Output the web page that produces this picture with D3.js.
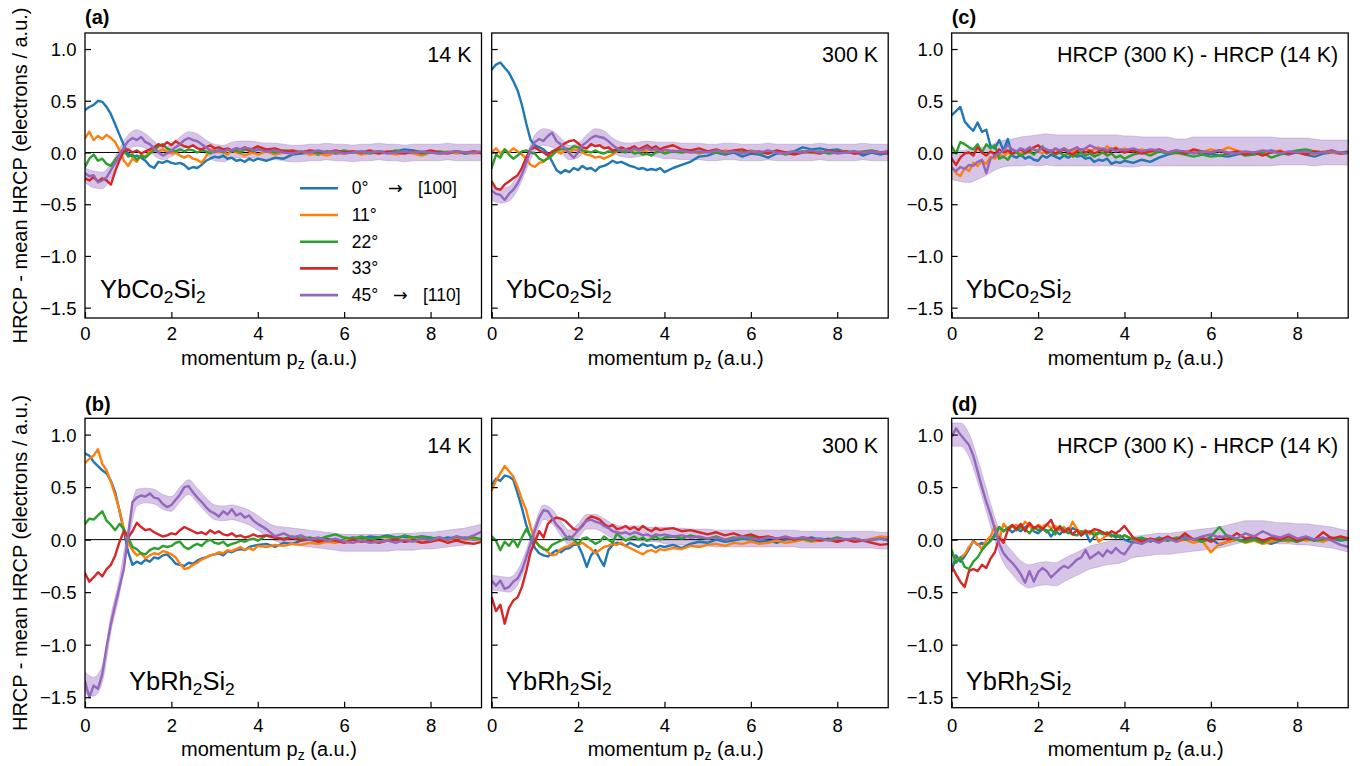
<!DOCTYPE html>
<html>
<head>
<meta charset="utf-8">
<title>HRCP anisotropy of YbCo2Si2 and YbRh2Si2</title>
<script src="https://cdn.jsdelivr.net/npm/d3@7/dist/d3.min.js"></script>
<style>
  html, body { margin: 0; padding: 0; background: #fff; }
  svg { display: block; }
  text { font-family: "Liberation Sans", Arial, Helvetica, sans-serif; fill: #000; }
  tspan.arrow { font-family: "DejaVu Sans", sans-serif; }
</style>
</head>
<body>
<svg id="fig" width="1365" height="766"></svg>
<script>
// ---------------------------------------------------------------------------
// Momentum grid of the directional profiles (a.u.)
const pz = [0.0,0.1,0.2,0.3,0.4,0.5,0.6,0.7,0.8,0.9,1.0,1.1,1.2,1.3,1.4,1.5,1.6,1.7,1.8,1.9,
  2.0,2.1,2.2,2.3,2.4,2.5,2.6,2.7,2.8,2.9,3.0,3.1,3.2,3.3,3.4,3.5,3.6,3.7,3.8,3.9,4.0,
  4.2,4.4,4.6,4.8,5.0,5.2,5.4,5.6,5.8,6.0,6.2,6.4,6.6,6.8,7.0,7.2,7.4,7.6,7.8,8.0,8.2,8.4,8.6,8.8,9.0,9.2];
// Momentum grid of the 45° uncertainty band (a.u.)
const pzBand = [0.0,0.2,0.4,0.6,0.8,1.0,1.2,1.4,1.6,1.8,2.0,2.2,2.4,2.6,2.8,3.0,3.2,3.4,3.6,3.8,
  4.0,4.2,4.4,4.6,4.8,5.0,5.2,5.4,5.6,5.8,6.0,6.2,6.4,6.6,6.8,7.0,7.2,7.4,7.6,7.8,8.0,8.2,8.4,8.6,8.8,9.0,9.2];

const angleLabels = ["0°", "11°", "22°", "33°", "45°"];
const angleColors = ["#1f77b4", "#ff7f0e", "#2ca02c", "#d62728", "#9467bd"];
const xTicks = [0, 2, 4, 6, 8];
const yTicks = [1.0, 0.5, 0.0, -0.5, -1.0, -1.5];

// ---- YbCo2Si2, 14 K -------------------------------------------------------
const co14_0 = [0.41,0.44,0.46,0.50,0.49,0.44,0.37,0.27,0.17,0.07,
  -0.01,-0.04,-0.03,-0.05,-0.08,-0.13,-0.15,-0.09,-0.10,-0.08,
  -0.10,-0.11,-0.10,-0.12,-0.16,-0.14,-0.15,-0.12,-0.08,-0.06,
  -0.04,-0.05,-0.03,-0.06,-0.05,-0.08,-0.07,-0.09,-0.06,-0.08,-0.06,
  -0.08,-0.05,-0.06,-0.02,-0.01, 0.00,-0.02,0.01,-0.01,0.00, 0.01,-0.01,0.00,0.01,0.00,
  0.01,0.03,0.02,0.00,0.01, -0.01,0.00,0.01,-0.01,0.00, 0.00];
const co14_11 = [0.14,0.20,0.12,0.16,0.13,0.17,0.14,0.10,0.02,-0.08,
  -0.13,-0.06,-0.09,-0.02,-0.04,0.01,0.03,0.01,0.03,0.01,
  -0.01,0.00,-0.03,-0.05,-0.03,-0.06,-0.07,-0.10,-0.04,0.03,
  0.02,0.00,0.01,-0.02,0.02,0.00,-0.01,-0.03,-0.01,0.00,-0.02,
  0.01,-0.02,0.00,-0.01,0.01, -0.02,-0.01,-0.03,0.00,-0.01, 0.01,-0.02,0.00,-0.01,0.00,
  -0.02,0.00,-0.01,-0.03,0.00, -0.01,0.01,-0.01,0.00,-0.01, 0.00];
const co14_22 = [-0.14,-0.06,-0.02,-0.08,-0.06,-0.11,-0.13,-0.07,-0.02,0.02,
  -0.04,-0.02,-0.07,-0.03,-0.05,-0.01,0.02,0.06,0.08,0.04,
  0.02,0.01,0.03,0.01,0.03,0.02,0.00,0.02,0.01,-0.01,
  0.01,0.02,0.00,0.03,0.01,0.02,0.00,0.03,0.02,0.01,0.03,
  0.02,0.00,0.02,0.01,0.00, 0.01,-0.01,0.01,0.00,0.02, 0.00,0.01,-0.01,0.01,0.00,
  0.02,0.00,0.01,-0.01,0.00, 0.01,0.00,0.01,-0.01,0.01, 0.00];
const co14_33 = [-0.25,-0.27,-0.24,-0.28,-0.25,-0.27,-0.31,-0.18,-0.07,0.01,
  0.03,0.00,0.02,-0.01,0.01,0.03,0.05,0.08,0.06,0.10,
  0.07,0.11,0.08,0.06,0.05,0.07,0.04,0.03,0.05,0.07,
  0.04,0.05,0.03,0.04,0.02,0.04,0.03,0.05,0.02,0.04,0.06,
  0.03,0.04,0.01,0.02,0.00, 0.02,0.01,0.00,0.02,0.00, 0.01,0.00,0.02,-0.01,0.01,
  0.00,-0.01,0.01,0.00,0.02, 0.00,-0.01,0.01,0.00,0.01, -0.01];
const co14_45 = [-0.20,-0.23,-0.22,-0.29,-0.27,-0.24,-0.17,-0.10,-0.02,0.05,
  0.11,0.14,0.12,0.15,0.10,0.08,0.04,0.00,-0.03,-0.01,
  0.02,0.05,0.08,0.12,0.14,0.12,0.11,0.08,0.05,0.02,
  0.00,0.02,0.01,0.03,0.02,0.04,0.03,0.05,0.04,0.02,0.03,
  0.01,0.02,0.00,-0.01,0.01, 0.00,0.02,0.00,0.01,-0.01, 0.00,0.01,0.00,0.01,-0.01,
  0.00,0.01,0.00,0.01,0.00, -0.01,0.00,0.01,0.00,0.00, 0.01];
const co14_bandMid = [-0.22,-0.26,-0.27,-0.18,-0.03,0.10,0.14,0.11,0.04,-0.01,
  0.02,0.08,0.13,0.11,0.05,0.00,-0.01,0.02,0.03,0.03,
  0.02,0.01,0.01,0.00,-0.01,-0.01,0.00,0.00,0.01,0.00,
  0.00,-0.01,0.00,0.00,0.01,0.00,0.00,-0.01,0.00,0.00,
  0.00,0.00,0.01,0.00,0.00,0.00,0.00];
const co14_bandErr = [0.07,0.08,0.08,0.07,0.07,0.07,0.08,0.07,0.07,0.06,
  0.06,0.07,0.07,0.07,0.07,0.08,0.08,0.08,0.08,0.08,
  0.08,0.08,0.08,0.08,0.08,0.08,0.08,0.08,0.08,0.08,
  0.08,0.08,0.08,0.08,0.08,0.08,0.08,0.08,0.08,0.08,
  0.08,0.08,0.08,0.08,0.08,0.08,0.08];

// ---- YbCo2Si2, 300 K ------------------------------------------------------
const co300_0 = [0.80,0.85,0.87,0.82,0.77,0.69,0.60,0.46,0.28,0.12,
  0.07,0.05,0.03,-0.01,-0.09,-0.17,-0.20,-0.17,-0.19,-0.15,
  -0.17,-0.13,-0.16,-0.15,-0.18,-0.14,-0.13,-0.11,-0.08,-0.10,
  -0.09,-0.11,-0.13,-0.14,-0.16,-0.15,-0.17,-0.16,-0.17,-0.15,-0.19,
  -0.15,-0.12,-0.09,-0.04,-0.03, 0.00,-0.02,0.00,-0.04,-0.01, -0.02,-0.05,-0.01,0.00,0.01,
  0.05,0.03,0.04,0.02,0.03, 0.00,0.01,-0.03,0.00,-0.02, 0.00];
const co300_11 = [0.00,0.04,-0.01,0.03,0.00,0.04,0.01,-0.02,-0.06,-0.12,
  -0.14,-0.10,-0.09,-0.05,-0.02,0.01,-0.01,0.02,0.00,0.03,
  0.02,0.00,-0.02,-0.03,-0.05,-0.04,-0.06,-0.04,-0.02,0.01,
  0.03,0.02,0.04,0.02,0.03,0.01,0.02,0.04,0.01,0.02,0.00,
  0.02,0.00,0.01,-0.01,0.01, 0.00,0.02,0.01,0.00,0.02, 0.00,-0.01,0.01,0.00,-0.01,
  0.01,0.00,-0.01,0.01,0.00, 0.01,-0.01,0.00,0.01,0.00, 0.01];
const co300_22 = [-0.15,-0.02,-0.05,0.03,-0.02,-0.06,-0.03,0.01,0.02,0.00,
  -0.01,-0.06,-0.08,-0.06,-0.03,0.02,0.03,0.04,0.03,0.06,
  0.05,0.02,0.01,0.00,0.02,0.00,-0.01,0.01,0.00,0.02,
  0.01,0.00,0.02,-0.01,0.00,-0.02,-0.01,-0.03,0.00,0.01,-0.01,
  0.01,0.00,0.02,0.00,0.01, 0.00,-0.01,0.01,0.00,0.01, -0.01,0.00,0.01,-0.02,0.00,
  0.01,0.00,0.01,-0.01,0.00, 0.01,0.00,0.01,0.02,0.00, 0.01];
const co300_33 = [-0.28,-0.35,-0.36,-0.31,-0.28,-0.25,-0.22,-0.15,-0.05,0.03,
  0.05,0.02,0.00,-0.03,0.01,0.03,0.06,0.09,0.11,0.12,
  0.09,0.05,0.04,0.08,0.06,0.07,0.04,0.05,0.02,0.03,
  0.05,0.03,0.04,0.06,0.03,0.05,0.07,0.04,0.06,0.03,0.05,
  0.07,0.03,0.02,0.04,0.01, 0.03,0.00,0.02,0.03,0.00, 0.01,-0.01,0.02,0.00,-0.02,
  0.00,0.01,-0.01,0.02,0.00, 0.01,-0.01,0.00,0.01,0.00, -0.01];
const co300_45 = [-0.37,-0.40,-0.41,-0.46,-0.40,-0.36,-0.30,-0.21,-0.10,0.03,
  0.10,0.13,0.11,0.16,0.19,0.11,0.08,0.04,-0.01,-0.05,
  0.00,0.07,0.10,0.14,0.16,0.15,0.14,0.11,0.07,0.04,
  0.02,0.03,0.01,0.04,0.02,0.03,0.05,0.02,0.04,0.01,0.03,
  0.01,0.02,0.00,0.01,0.00, 0.02,0.00,0.01,-0.01,0.01, 0.00,0.02,0.00,-0.01,0.01,
  0.00,0.02,0.00,0.01,-0.01, 0.00,0.01,0.00,0.01,0.00, 0.01];
const co300_bandMid = [-0.39,-0.42,-0.40,-0.29,-0.10,0.09,0.15,0.13,0.07,0.00,
  0.02,0.10,0.15,0.13,0.07,0.03,0.02,0.03,0.04,0.03,
  0.02,0.02,0.01,0.01,0.01,0.00,0.00,0.01,0.01,0.00,
  0.00,0.00,0.01,0.00,0.00,0.00,0.00,0.00,0.01,0.00,
  0.00,0.00,0.00,0.01,0.00,0.00,0.00];
const co300_bandErr = [0.07,0.07,0.07,0.07,0.07,0.08,0.08,0.08,0.07,0.07,
  0.07,0.07,0.08,0.08,0.07,0.07,0.07,0.07,0.07,0.07,
  0.08,0.08,0.08,0.08,0.08,0.08,0.08,0.08,0.08,0.08,
  0.08,0.08,0.08,0.08,0.08,0.08,0.08,0.08,0.08,0.08,
  0.08,0.08,0.08,0.08,0.08,0.08,0.08];

// ---- YbCo2Si2, 300 K minus 14 K -------------------------------------------
const coDiff_0 = [0.36,0.40,0.44,0.30,0.25,0.21,0.29,0.20,0.22,0.06,
  0.04,0.12,0.02,0.13,-0.03,-0.05,-0.02,-0.06,-0.04,-0.07,
  -0.08,-0.03,-0.05,-0.02,-0.04,-0.06,-0.03,-0.05,-0.02,-0.04,
  -0.03,-0.06,-0.05,-0.09,-0.07,-0.08,-0.06,-0.11,-0.09,-0.10,-0.08,
  -0.10,-0.07,-0.09,-0.05,-0.02, 0.00,-0.01,0.01,-0.02,-0.01, -0.03,-0.04,-0.02,0.00,-0.01,
  0.00,0.02,0.00,-0.02,0.01, -0.02,-0.04,-0.01,0.00,-0.01, 0.00];
const coDiff_11 = [-0.14,-0.20,-0.23,-0.15,-0.18,-0.10,-0.13,-0.08,-0.11,-0.04,
  -0.06,-0.02,-0.04,0.00,-0.02,0.01,-0.01,0.02,0.00,0.03,
  0.01,-0.01,0.02,0.00,0.03,0.01,0.04,0.02,0.00,0.03,
  0.02,0.04,0.01,0.03,0.05,0.02,0.06,0.03,0.05,0.02,0.04,
  0.01,0.03,0.00,0.02,0.00, -0.01,0.01,0.02,0.00,0.03, 0.01,0.05,0.02,0.00,-0.01,
  0.01,0.00,0.02,-0.01,0.01, 0.00,-0.02,0.01,0.00,-0.01, 0.00];
const coDiff_22 = [0.06,-0.01,0.10,0.08,0.05,0.03,0.08,0.00,0.08,0.04,
  0.07,-0.06,-0.04,-0.07,-0.01,0.00,-0.03,-0.01,0.01,-0.02,
  0.02,0.06,-0.01,0.01,-0.02,0.00,-0.03,-0.01,-0.04,-0.02,
  0.00,-0.03,-0.01,-0.04,-0.02,0.00,-0.03,-0.01,-0.05,-0.03,-0.06,
  -0.02,0.00,-0.03,0.01,-0.01, 0.00,-0.02,-0.04,-0.02,-0.04, -0.03,-0.01,0.00,-0.03,-0.02,
  0.00,-0.05,-0.02,0.00,0.02, 0.03,0.01,0.00,0.01,0.00, 0.01];
const coDiff_33 = [-0.06,-0.12,-0.05,-0.01,0.00,-0.03,0.05,0.00,-0.03,0.01,
  -0.02,0.03,0.00,0.02,-0.01,0.01,0.03,0.00,0.02,0.05,
  0.07,0.03,0.00,0.02,-0.01,0.01,0.03,0.00,-0.02,0.01,
  0.03,0.00,0.02,-0.01,0.01,0.03,0.00,0.02,0.04,0.01,0.00,
  0.02,-0.01,0.01,0.03,0.00, 0.02,-0.01,0.03,0.01,0.00, 0.02,-0.01,0.01,-0.02,0.00,
  -0.03,0.00,0.01,-0.01,0.00, -0.02,0.01,0.00,0.02,-0.01, 0.00];
const coDiff_45 = [-0.15,-0.18,-0.14,-0.16,-0.12,-0.13,-0.09,-0.07,-0.20,-0.06,
  -0.03,-0.01,0.02,0.07,0.03,0.01,0.04,0.02,0.05,0.03,
  0.01,0.05,0.03,0.01,0.04,0.02,0.04,0.01,0.03,0.05,
  0.02,0.04,0.07,0.05,0.03,0.04,0.02,0.04,0.01,0.03,0.02,
  0.04,0.01,0.03,0.02,0.00, 0.02,0.01,-0.01,0.01,0.00, 0.02,0.00,-0.01,0.01,0.00,
  0.02,0.01,-0.01,0.01,0.00, 0.01,-0.01,0.00,0.01,0.00, -0.01];
const coDiff_bandMid = [-0.12,-0.13,-0.13,-0.11,-0.08,-0.04,-0.01,0.00,0.01,0.02,
  0.02,0.03,0.02,0.02,0.02,0.02,0.02,0.02,0.02,0.02,
  0.01,0.01,0.01,0.01,0.01,0.01,0.00,0.00,0.01,0.01,
  0.01,0.01,0.01,0.01,0.01,0.01,0.01,0.01,0.01,0.01,
  0.01,0.01,0.00,0.00,0.00,0.00,0.00];
const coDiff_bandErr = [0.14,0.15,0.16,0.15,0.14,0.13,0.13,0.13,0.14,0.14,
  0.15,0.15,0.15,0.15,0.15,0.15,0.15,0.15,0.15,0.15,
  0.15,0.15,0.14,0.14,0.14,0.14,0.13,0.13,0.14,0.14,
  0.14,0.14,0.14,0.14,0.14,0.14,0.14,0.14,0.13,0.13,
  0.13,0.13,0.13,0.12,0.12,0.12,0.12];

// ---- YbRh2Si2, 14 K -------------------------------------------------------
const rh14_0 = [0.82,0.80,0.74,0.70,0.66,0.63,0.56,0.45,0.27,0.08,
  -0.12,-0.24,-0.21,-0.23,-0.19,-0.21,-0.17,-0.18,-0.15,-0.14,
  -0.18,-0.23,-0.24,-0.25,-0.22,-0.23,-0.20,-0.18,-0.17,-0.15,
  -0.14,-0.13,-0.15,-0.11,-0.12,-0.10,-0.09,-0.10,-0.07,-0.06,-0.05,
  -0.04,-0.07,-0.03,-0.04,-0.01, 0.00,-0.02,0.01,-0.01,0.00, 0.02,0.01,0.03,0.02,0.04,
  0.02,0.03,0.01,0.03,0.02, 0.00,0.02,0.01,0.02,0.00, 0.01];
const rh14_11 = [0.73,0.77,0.80,0.86,0.72,0.66,0.55,0.42,0.28,0.10,
  -0.03,-0.10,-0.15,-0.13,-0.18,-0.15,-0.13,-0.14,-0.11,-0.12,
  -0.14,-0.17,-0.23,-0.28,-0.27,-0.24,-0.22,-0.19,-0.17,-0.15,
  -0.14,-0.12,-0.13,-0.10,-0.11,-0.09,-0.07,-0.10,-0.08,-0.10,-0.06,
  -0.07,-0.05,-0.06,-0.04,-0.05, -0.03,-0.04,-0.02,-0.03,-0.01, 0.01,-0.01,0.00,-0.02,0.00,
  0.01,-0.01,0.02,0.00,0.01, -0.01,0.00,0.02,0.00,0.01, 0.00];
const rh14_22 = [0.15,0.20,0.19,0.23,0.27,0.18,0.14,0.09,0.15,0.10,
  0.02,-0.07,-0.09,-0.13,-0.14,-0.10,-0.08,-0.09,-0.06,-0.07,
  -0.06,-0.03,-0.02,-0.07,-0.09,-0.06,-0.04,-0.06,-0.02,0.00,
  -0.03,-0.04,-0.02,-0.06,-0.04,-0.03,-0.01,-0.02,0.00,0.01,-0.01,
  0.04,0.02,0.01,0.03,0.01, 0.02,0.00,0.03,0.05,0.02, 0.01,0.03,0.00,0.02,0.03,
  0.01,0.04,0.02,0.03,0.01, 0.02,0.00,0.03,0.01,0.02, 0.00];
const rh14_33 = [-0.32,-0.40,-0.36,-0.31,-0.35,-0.28,-0.24,-0.15,-0.02,0.08,
  0.02,0.08,0.16,0.12,0.09,0.10,0.07,0.05,0.03,0.04,
  0.06,0.05,0.09,0.12,0.10,0.08,0.06,0.07,0.05,0.09,
  0.06,0.08,0.05,0.04,0.06,0.03,0.04,0.02,0.03,0.05,0.03,
  0.04,0.02,0.00,0.02,-0.01, 0.01,-0.02,0.00,-0.01,-0.03, 0.00,-0.02,-0.01,-0.03,-0.01,
  0.00,-0.02,-0.01,-0.03,-0.02, 0.00,-0.03,-0.01,-0.03,-0.04, -0.02];
const rh14_45 = [-1.35,-1.50,-1.39,-1.42,-1.28,-1.02,-0.80,-0.62,-0.45,-0.28,
  0.05,0.36,0.40,0.42,0.41,0.44,0.40,0.39,0.34,0.31,
  0.33,0.38,0.43,0.50,0.51,0.45,0.40,0.36,0.31,0.27,
  0.25,0.22,0.27,0.24,0.29,0.23,0.25,0.21,0.23,0.18,0.15,
  0.10,0.03,0.06,0.02,0.04, 0.00,0.02,-0.01,0.01,-0.02, -0.03,-0.01,-0.03,-0.02,-0.01,
  -0.03,0.00,-0.02,0.01,-0.01, 0.02,0.00,0.03,0.01,0.04, 0.08];
const rh14_bandMid = [-1.36,-1.40,-1.28,-0.80,-0.44,0.04,0.40,0.42,0.41,0.36,
  0.34,0.43,0.50,0.42,0.33,0.26,0.25,0.26,0.24,0.21,
  0.16,0.10,0.06,0.04,0.03,0.02,0.01,0.00,-0.01,-0.02,
  -0.03,-0.03,-0.03,-0.03,-0.03,-0.03,-0.02,-0.02,-0.02,-0.01,
  -0.01,0.00,0.01,0.02,0.03,0.05,0.07];
const rh14_bandErr = [0.10,0.09,0.08,0.08,0.08,0.08,0.08,0.07,0.07,0.07,
  0.07,0.07,0.07,0.07,0.07,0.07,0.07,0.07,0.07,0.07,
  0.07,0.07,0.07,0.08,0.08,0.08,0.08,0.08,0.08,0.08,
  0.08,0.08,0.08,0.08,0.08,0.08,0.08,0.08,0.08,0.08,
  0.08,0.08,0.08,0.08,0.08,0.08,0.08];

// ---- YbRh2Si2, 300 K ------------------------------------------------------
const rh300_0 = [0.52,0.58,0.56,0.61,0.60,0.57,0.44,0.30,0.14,0.02,
  -0.08,-0.13,-0.15,-0.16,-0.13,-0.10,-0.12,-0.09,-0.08,-0.05,
  -0.05,-0.14,-0.26,-0.15,-0.10,-0.18,-0.25,-0.10,-0.05,-0.03,
  -0.04,-0.06,-0.03,-0.05,-0.07,-0.04,-0.06,-0.05,-0.08,-0.06,-0.07,
  -0.05,-0.08,-0.04,-0.02,-0.03, 0.00,-0.02,-0.01,0.01,0.00, -0.02,-0.01,-0.03,0.00,0.01,
  0.00,0.02,0.00,0.01,-0.01, 0.00,0.01,-0.01,0.00,0.01, -0.01];
const rh300_11 = [0.47,0.56,0.63,0.70,0.65,0.60,0.50,0.38,0.28,0.12,
  0.00,-0.06,-0.08,-0.12,-0.15,-0.14,-0.09,-0.07,-0.06,-0.03,
  -0.05,-0.03,-0.06,-0.09,-0.13,-0.10,-0.07,-0.06,-0.04,-0.05,
  -0.03,-0.06,-0.08,-0.10,-0.12,-0.14,-0.11,-0.10,-0.12,-0.09,-0.10,
  -0.08,-0.09,-0.06,-0.07,-0.05, -0.04,-0.06,-0.03,-0.04,-0.02, -0.04,-0.03,-0.01,-0.03,-0.02,
  0.00,-0.02,-0.01,0.00,-0.02, 0.00,0.01,-0.01,0.01,0.03, 0.02];
const rh300_22 = [0.03,-0.01,-0.10,-0.02,-0.06,0.00,-0.07,0.02,0.10,0.03,
  -0.01,-0.06,-0.09,-0.10,-0.05,-0.03,-0.01,0.01,0.03,0.00,
  -0.04,0.01,0.02,-0.01,-0.04,-0.02,0.03,0.00,-0.03,0.06,
  0.02,-0.01,0.01,0.03,0.00,0.02,-0.01,0.01,0.03,0.00,0.02,
  0.03,0.01,0.04,0.02,0.01, 0.03,0.00,0.02,0.01,0.03, 0.00,0.02,0.01,0.02,0.00,
  0.01,-0.01,0.01,0.00,0.02, 0.00,0.01,-0.01,0.00,0.01, 0.00];
const rh300_33 = [-0.55,-0.68,-0.62,-0.80,-0.65,-0.58,-0.55,-0.45,-0.30,-0.12,
  -0.02,0.08,0.02,0.15,0.19,0.21,0.20,0.18,0.14,0.10,
  0.09,0.13,0.19,0.22,0.21,0.19,0.15,0.12,0.14,0.10,
  0.11,0.13,0.10,0.12,0.09,0.13,0.10,0.08,0.11,0.09,0.10,
  0.11,0.08,0.09,0.07,0.05, 0.07,0.04,0.06,0.03,0.05, 0.02,0.03,0.01,0.02,0.00,
  0.02,0.01,-0.01,0.00,-0.02, 0.00,-0.02,-0.01,-0.03,-0.05, -0.04];
const rh300_45 = [-0.39,-0.44,-0.39,-0.47,-0.45,-0.40,-0.37,-0.29,-0.17,-0.04,
  0.09,0.21,0.28,0.27,0.21,0.14,0.10,0.04,0.00,0.04,
  0.09,0.14,0.18,0.19,0.17,0.16,0.13,0.11,0.08,0.07,
  0.06,0.07,0.05,0.07,0.06,0.04,0.05,0.03,0.05,0.04,0.05,
  0.03,0.04,0.02,0.03,0.01, 0.02,0.00,0.01,0.03,0.01, 0.00,0.02,0.01,0.03,0.01,
  0.02,0.00,0.01,-0.01,0.01, 0.00,0.01,-0.01,0.00,0.01, 0.00];
const rh300_bandMid = [-0.41,-0.42,-0.43,-0.36,-0.17,0.08,0.26,0.22,0.11,0.02,
  0.08,0.17,0.17,0.13,0.08,0.06,0.06,0.06,0.05,0.05,
  0.04,0.03,0.03,0.02,0.02,0.02,0.01,0.01,0.01,0.01,
  0.01,0.01,0.01,0.01,0.01,0.01,0.00,0.00,0.00,0.00,
  0.00,0.00,0.00,0.00,0.00,-0.01,-0.01];
const rh300_bandErr = [0.07,0.07,0.07,0.07,0.07,0.07,0.07,0.07,0.07,0.07,
  0.07,0.07,0.07,0.07,0.07,0.07,0.07,0.07,0.07,0.07,
  0.08,0.08,0.08,0.08,0.08,0.08,0.08,0.08,0.08,0.08,
  0.08,0.08,0.08,0.08,0.08,0.08,0.08,0.08,0.08,0.08,
  0.08,0.08,0.08,0.08,0.08,0.08,0.08];

// ---- YbRh2Si2, 300 K minus 14 K -------------------------------------------
const rhDiff_0 = [-0.30,-0.15,-0.21,-0.16,-0.09,-0.01,-0.05,-0.03,-0.05,-0.01,
  0.05,0.12,0.08,0.11,0.07,0.10,0.08,0.12,0.14,0.08,
  0.06,0.10,0.09,0.03,0.08,0.05,0.09,0.06,0.11,0.09,
  0.04,0.07,-0.02,0.03,0.06,0.07,0.04,0.05,0.02,0.04,0.00,
  -0.03,0.01,-0.02,0.02,-0.01, 0.01,0.03,0.00,-0.02,0.01, -0.05,-0.02,0.00,-0.01,0.01,
  -0.02,-0.04,-0.01,0.00,-0.02, 0.01,-0.01,0.00,0.01,-0.01, 0.00];
const rhDiff_11 = [-0.12,-0.20,-0.17,-0.14,-0.07,-0.02,-0.04,-0.09,-0.01,0.03,
  0.13,0.00,0.15,0.10,0.12,0.14,0.11,0.17,0.13,0.10,
  0.14,0.12,0.15,0.11,0.13,0.09,0.12,0.08,0.17,0.10,
  0.07,0.09,0.05,0.08,-0.02,0.01,0.05,0.03,0.06,0.02,0.04,
  0.00,-0.02,0.01,-0.01,0.02, -0.02,0.00,-0.03,-0.01,-0.12, -0.04,-0.02,0.00,-0.03,-0.01,
  -0.04,-0.02,0.00,-0.02,0.01, -0.01,0.00,-0.02,0.01,0.02, 0.00];
const rhDiff_22 = [-0.10,-0.22,-0.17,-0.26,-0.28,-0.21,-0.17,-0.10,-0.05,-0.01,
  0.03,0.12,0.08,0.11,0.14,0.09,0.12,0.10,0.06,0.12,
  0.09,0.11,0.07,0.10,0.05,0.13,0.09,0.07,0.05,0.04,
  0.08,0.06,0.08,0.04,0.07,0.05,0.07,0.03,0.05,0.02,0.04,
  0.00,0.02,-0.01,0.01,-0.01, 0.02,0.00,0.01,-0.02,0.03, 0.12,0.02,0.00,-0.02,0.00,
  -0.03,0.01,-0.01,0.00,-0.02, 0.01,-0.01,0.00,0.02,0.00, 0.01];
const rhDiff_33 = [-0.25,-0.33,-0.40,-0.45,-0.30,-0.28,-0.30,-0.24,-0.27,-0.18,
  -0.12,0.02,-0.03,0.09,0.14,0.10,0.15,0.08,0.16,0.11,
  0.13,0.10,0.14,0.19,0.09,0.12,0.07,0.11,0.05,0.09,
  0.04,0.08,0.07,0.10,0.09,0.07,0.05,0.08,0.06,0.09,0.13,
  0.02,-0.02,0.01,-0.01,0.03, -0.01,0.06,0.00,0.02,-0.02, 0.03,0.00,0.06,0.01,0.03,
  -0.01,0.02,0.00,0.03,-0.01, 0.02,0.00,0.07,0.01,0.03, 0.01];
const rhDiff_45 = [0.98,1.06,1.00,0.95,0.90,0.80,0.65,0.50,0.36,0.24,
  0.10,-0.04,-0.13,-0.18,-0.22,-0.27,-0.33,-0.41,-0.30,-0.40,
  -0.31,-0.27,-0.30,-0.36,-0.32,-0.28,-0.25,-0.27,-0.23,-0.19,
  -0.17,-0.10,-0.18,-0.15,-0.12,-0.16,-0.10,-0.13,-0.08,-0.12,-0.14,
  -0.02,-0.04,0.00,-0.03,0.01, -0.02,0.02,0.00,0.03,0.05, 0.02,0.04,0.01,0.06,0.03,
  0.08,0.04,0.02,0.05,0.01, 0.03,0.00,0.02,-0.01,-0.05, -0.07];
const rhDiff_bandMid = [1.00,1.00,0.90,0.66,0.38,0.10,-0.11,-0.22,-0.31,-0.35,
  -0.33,-0.32,-0.33,-0.29,-0.25,-0.21,-0.17,-0.15,-0.13,-0.12,
  -0.11,-0.07,-0.06,-0.05,-0.04,-0.04,-0.03,-0.02,-0.01,0.00,
  0.01,0.02,0.04,0.06,0.08,0.08,0.08,0.07,0.06,0.06,
  0.05,0.05,0.04,0.03,0.02,0.00,-0.02];
const rhDiff_bandErr = [0.11,0.11,0.11,0.11,0.11,0.11,0.11,0.11,0.11,0.11,
  0.11,0.11,0.11,0.11,0.11,0.11,0.11,0.11,0.11,0.11,
  0.10,0.10,0.10,0.10,0.10,0.10,0.10,0.10,0.10,0.10,
  0.10,0.10,0.10,0.10,0.10,0.10,0.10,0.10,0.10,0.10,
  0.10,0.10,0.10,0.10,0.10,0.10,0.10];

// ---------------------------------------------------------------------------
// Figure geometry
const layout = {
  colX: [85, 491.7, 951.7],
  colW: 396.5,
  rowY: [33, 418.3],
  rowH: [285, 289.4],
  xTickBase: [22, 24],      // tick-label baseline below the axis
  xLabelBase: [46.5, 48.5], // axis-label baseline below the axis
  tagBase: [24, 411],
  noteBase: [62, 453],
  compoundBase: [298, 690]
};
const xDomain = [0, 9.18];
const yDomain = [-1.6, 1.155];

const panels = [
  { id: "a",  row: 0, col: 0, tag: "(a)", note: "14 K", compound: "Co", compoundDx: 15,
    series: [co14_0, co14_11, co14_22, co14_33, co14_45], bandMid: co14_bandMid, bandErr: co14_bandErr, yLabels: true },
  { id: "a2", row: 0, col: 1, tag: null, note: "300 K", compound: "Co", compoundDx: 14.3,
    series: [co300_0, co300_11, co300_22, co300_33, co300_45], bandMid: co300_bandMid, bandErr: co300_bandErr, yLabels: false },
  { id: "c",  row: 0, col: 2, tag: "(c)", note: "HRCP (300 K) - HRCP (14 K)", compound: "Co", compoundDx: 14,
    series: [coDiff_0, coDiff_11, coDiff_22, coDiff_33, coDiff_45], bandMid: coDiff_bandMid, bandErr: coDiff_bandErr, yLabels: true },
  { id: "b",  row: 1, col: 0, tag: "(b)", note: "14 K", compound: "Rh", compoundDx: 44,
    series: [rh14_0, rh14_11, rh14_22, rh14_33, rh14_45], bandMid: rh14_bandMid, bandErr: rh14_bandErr, yLabels: true },
  { id: "b2", row: 1, col: 1, tag: null, note: "300 K", compound: "Rh", compoundDx: 14.3,
    series: [rh300_0, rh300_11, rh300_22, rh300_33, rh300_45], bandMid: rh300_bandMid, bandErr: rh300_bandErr, yLabels: false },
  { id: "d",  row: 1, col: 2, tag: "(d)", note: "HRCP (300 K) - HRCP (14 K)", compound: "Rh", compoundDx: 14,
    series: [rhDiff_0, rhDiff_11, rhDiff_22, rhDiff_33, rhDiff_45], bandMid: rhDiff_bandMid, bandErr: rhDiff_bandErr, yLabels: true }
];

const svg = d3.select("#fig");

// chemical formula Yb(M)2Si2 with lowered subscripts
function formula(sel, metal, size) {
  const sub = Math.round(size * 0.68 * 10) / 10, drop = size * 0.2;
  const parts = [["Yb" + metal, false], ["2", true], ["Si", false], ["2", true]];
  parts.forEach(([t, isSub]) => {
    sel.append("tspan")
      .attr("dy", isSub ? drop : -drop)
      .style("font-size", (isSub ? sub : size) + "px")
      .text(t);
  });
  sel.select("tspan").attr("dy", 0);
}

function drawPanel(p) {
  const x0 = layout.colX[p.col], y0 = layout.rowY[p.row];
  const w = layout.colW, h = layout.rowH[p.row];
  const g = svg.append("g").attr("transform", `translate(${x0},${y0})`);
  const x = d3.scaleLinear().domain(xDomain).range([0, w]);
  const y = d3.scaleLinear().domain(yDomain).range([h, 0]);

  const clipId = "clip-" + p.id;
  g.append("clipPath").attr("id", clipId).append("rect").attr("width", w).attr("height", h);
  const plot = g.append("g").attr("clip-path", `url(#${clipId})`);

  // uncertainty band of the 45° profile
  const band = p.bandMid.map((m, i) => ({ p: pzBand[i], lo: m - p.bandErr[i], hi: m + p.bandErr[i] }));
  plot.append("path").datum(band)
    .attr("d", d3.area().x(d => x(d.p)).y0(d => y(d.lo)).y1(d => y(d.hi)).curve(d3.curveMonotoneX))
    .attr("fill", angleColors[4]).attr("fill-opacity", 0.38)
    .attr("stroke", angleColors[4]).attr("stroke-opacity", 0.3).attr("stroke-width", 1);

  // zero reference
  plot.append("line")
    .attr("x1", 0).attr("x2", w).attr("y1", y(0)).attr("y2", y(0))
    .attr("stroke", "#000").attr("stroke-width", 1);

  // directional profiles
  const line = d3.line().x(d => x(d.p)).y(d => y(d.v));
  p.series.forEach((vals, k) => {
    const pts = vals.map((v, i) => ({ p: pz[i], v }));
    plot.append("path").datum(pts)
      .attr("d", line)
      .attr("fill", "none")
      .attr("stroke", angleColors[k])
      .attr("stroke-width", 2.4)
      .attr("stroke-linejoin", "round")
      .attr("stroke-linecap", "round");
  });

  // axes with inward ticks
  const gx = g.append("g").attr("transform", `translate(0,${h})`)
    .call(d3.axisBottom(x).tickValues(xTicks).tickSize(-6).tickFormat(d3.format("d")));
  gx.attr("font-family", null).attr("font-size", null);
  gx.select(".domain").remove();
  gx.selectAll(".tick line").attr("stroke", "#000").attr("stroke-width", 1.2);
  gx.selectAll(".tick text").attr("y", layout.xTickBase[p.row]).attr("dy", 0)
    .attr("fill", "#000").style("font-size", "18.5px");

  const gy = g.append("g")
    .call(d3.axisLeft(y).tickValues(yTicks).tickSize(-6).tickFormat(d3.format(".1f")));
  gy.attr("font-family", null).attr("font-size", null);
  gy.select(".domain").remove();
  gy.selectAll(".tick line").attr("stroke", "#000").attr("stroke-width", 1.2);
  if (p.yLabels) {
    gy.selectAll(".tick text").attr("x", -8.5).attr("dy", "0.36em")
      .attr("fill", "#000").style("font-size", "18.5px");
  } else {
    gy.selectAll(".tick text").remove();
  }

  // frame
  g.append("rect").attr("width", w).attr("height", h)
    .attr("fill", "none").attr("stroke", "#000").attr("stroke-width", 1.3);

  // x-axis title
  const xt = g.append("text").attr("x", 96).attr("y", h + layout.xLabelBase[p.row]).style("font-size", "20px");
  xt.append("tspan").text("momentum p");
  xt.append("tspan").attr("dy", 4).style("font-size", "14px").text("z");
  xt.append("tspan").attr("dy", -4).text(" (a.u.)");

  // temperature note
  g.append("text").attr("x", w - 10).attr("y", layout.noteBase[p.row] - y0)
    .attr("text-anchor", "end").style("font-size", "21.5px").text(p.note);

  // compound name
  const ct = g.append("text").attr("x", p.compoundDx).attr("y", layout.compoundBase[p.row] - y0);
  formula(ct, p.compound, 25.5);

  // panel tag
  if (p.tag) {
    svg.append("text").attr("x", x0).attr("y", layout.tagBase[p.row])
      .style("font-size", "20px").style("font-weight", "bold").text(p.tag);
  }
}

panels.forEach(drawPanel);

// shared y-axis titles
[0, 1].forEach(r => {
  const cy = layout.rowY[r] + layout.rowH[r] / 2;
  svg.append("text")
    .attr("transform", `translate(27,${cy}) rotate(-90)`)
    .attr("text-anchor", "middle").style("font-size", "20px")
    .text("HRCP - mean HRCP (electrons / a.u.)");
});

// legend (panel a)
const legendX = 300, legendY0 = 188.3, legendStep = 26.7;
const legendDir = [["→", 388, "[100]", 418], null, null, null, ["→", 393, "[110]", 423]];
angleLabels.forEach((lab, k) => {
  const ly = legendY0 + k * legendStep;
  svg.append("line").attr("x1", legendX).attr("x2", legendX + 38).attr("y1", ly).attr("y2", ly)
    .attr("stroke", angleColors[k]).attr("stroke-width", 2.6);
  const t = svg.append("text").attr("y", ly + 6).style("font-size", "17.5px");
  t.append("tspan").attr("x", 351.7).text(lab);
  if (legendDir[k]) {
    t.append("tspan").attr("class", "arrow").attr("x", legendDir[k][1]).text(legendDir[k][0]);
    t.append("tspan").attr("x", legendDir[k][3]).text(legendDir[k][2]);
  }
});
</script>
</body>
</html>
